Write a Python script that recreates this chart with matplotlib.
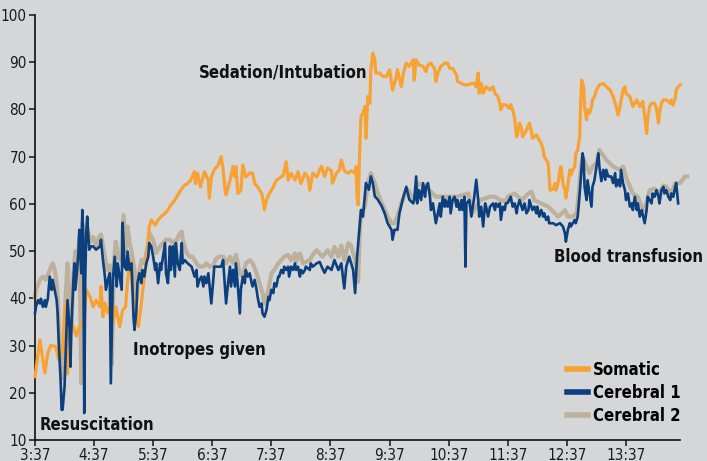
import matplotlib
matplotlib.use("Agg")
from matplotlib import pyplot as plt
from matplotlib import font_manager as fm

# minutes after 3:37
som_t = [0, 5, 10, 13, 16, 21, 24, 28, 30, 31, 33, 35, 39, 42, 45, 49, 50, 52, 56, 59, 62, 66, 67, 69, 71, 74,
         77, 79, 82, 86, 89, 92, 94, 97, 99, 103, 105, 108, 111, 115, 116, 118, 122, 125, 128, 132, 135, 138,
         142, 145, 148, 152, 155, 158, 162, 163, 165, 168, 172, 176, 177, 179, 182, 186, 189, 191, 193, 194,
         198, 201, 203, 204, 206, 209, 211, 214, 218, 221, 223, 226, 230, 231, 233, 235, 238, 242, 245, 248,
         252, 255, 257, 260, 264, 267, 270, 274, 277, 279, 282, 286, 289, 291, 294, 297, 301, 302, 306, 309,
         311, 314, 318, 321, 325, 326, 327, 328, 330, 331, 333, 335, 336, 338, 340, 341, 343, 345, 346, 350,
         353, 357, 360, 363, 367, 368, 372, 374, 377, 380, 384, 385, 387, 390, 394, 397, 399, 402, 406, 407,
         409, 412, 416, 419, 421, 424, 428, 429, 433, 436, 440, 443, 446, 448, 450, 451, 453, 455, 458, 462,
         465, 467, 470, 472, 473, 475, 478, 482, 483, 485, 487, 489, 490, 492, 494, 495, 499, 502, 504, 505,
         509, 512, 514, 516, 517, 519, 521, 522, 523, 526, 528, 529, 531, 533, 534, 536, 538, 539, 541, 543,
         544, 546, 548, 549, 551, 553, 554, 555, 557, 558, 560, 561, 563, 565, 566, 568, 570, 573, 577, 580,
         584, 587, 590, 592, 594, 597, 599, 600, 604, 606, 607, 611, 614, 616, 617, 619, 621, 622, 624, 626,
         629, 631, 633, 634, 636, 638, 641, 645, 646, 648, 650, 651, 653, 655]
somatic = [23.4, 31.2, 24.2, 28.4, 30, 29.8, 27, 29, 36.9, 39, 24, 31.9, 34, 32, 34, 34.7, 35.4, 41.8, 40.3,
           38.2, 39.6, 38.2, 42.5, 36.1, 39, 36.9, 39, 34.7, 38.2, 34, 37.5, 38.2, 43.9, 48, 41.8, 36.1, 34,
           39, 44.6, 51.7, 55.2, 56.6, 55.5, 56.6, 57.3, 58, 58.7, 59.8, 60.8, 61.9, 62.9, 64, 64.3, 65, 66.8,
           64.3, 66.5, 63.6, 66.8, 65, 61.2, 65.7, 67.2, 68.2, 70, 67.2, 63, 61.9, 65, 67.9, 65.7, 67.9, 62.2,
           62.9, 68.2, 65.7, 66.5, 66.5, 64.3, 63.6, 62.2, 61.5, 58.7, 60.8, 62.2, 63.6, 65, 65.4, 66, 68.9,
           65, 66.5, 65, 66.8, 64.3, 66.5, 65.7, 62.9, 66.5, 65.7, 67.2, 67.9, 65.8, 67.6, 67, 64.4, 66.5,
           67.2, 69.3, 67, 66.5, 67, 66.5, 67.9, 61.5, 59.8, 73.5, 78.5, 79.2, 80.6, 73.9, 82.7, 81.3, 88.4,
           91.9, 90.5, 87.7, 87.7, 87, 87, 88.4, 84.1, 87, 88.4, 84.8, 87.7, 89.8, 89.1, 90.5, 86.2, 90.5,
           89.4, 89.1, 88, 89.4, 89.8, 88.4, 85.9, 87.7, 89.1, 89.8, 89.8, 88.7, 88.7, 87.3, 85.9, 85.5, 85.2,
           85.2, 85.5, 85.5, 84.8, 87.7, 83.4, 85.5, 83.4, 84.8, 84.1, 84.8, 83.4, 82.7, 81.3, 79.9, 81, 81,
           80.2, 81, 79.9, 78.1, 74.2, 74.9, 77.1, 76, 74.2, 75.6, 77.1, 75.3, 73.9, 74.6, 73.5, 72.8, 71.4,
           70, 69.3, 68.6, 65.8, 62.9, 63.1, 64.3, 62.9, 64.3, 67.2, 67.9, 64.3, 62.9, 61.2, 64, 67.2, 66.1,
           67.2, 67.9, 70.7, 71.4, 74.2, 81.3, 86.2, 84.8, 80.6, 77.8, 79.9, 79.2, 80.6, 82, 82.7, 84.1, 85.2,
           85.5, 84.8, 84.1, 82.7, 80.6, 78.8, 80.6, 84.1, 84.8, 83.4, 82.7, 81.3, 80.6, 82, 80.6, 81.3, 81.7,
           78.5, 74.9, 77.8, 80.6, 81.3, 81.3, 80.2, 77.1, 79.2, 81.3, 82, 82, 81.3, 82, 80.9, 82.4, 84.1,
           84.8, 85.2]

cer1_t = [0, 1, 3, 5, 6, 8, 10, 11, 13, 15, 17, 18, 20, 22, 23, 24, 26, 27, 28, 30, 32, 33, 35, 36, 37, 39,
          40, 41, 43, 44, 45, 47, 48, 49, 50, 51, 52, 53, 55, 57, 59, 62, 66, 67, 69, 71, 72, 74, 76, 77, 79,
          81, 83, 84, 86, 88, 89, 91, 93, 94, 96, 98, 99, 100, 101, 103, 104, 106, 108, 109, 111, 113, 115,
          116, 118, 120, 122, 123, 125, 127, 128, 130, 132, 133, 135, 137, 138, 140, 142, 143, 145, 147, 149,
          150, 152, 155, 159, 162, 164, 165, 167, 169, 171, 172, 174, 176, 177, 179, 181, 182, 186, 189, 191,
          193, 194, 196, 198, 199, 201, 203, 204, 206, 208, 209, 211, 213, 214, 216, 218, 220, 221, 223, 225,
          226, 228, 230, 231, 233, 235, 237, 238, 240, 242, 243, 245, 247, 248, 250, 252, 253, 255, 257, 258,
          260, 262, 264, 265, 267, 269, 270, 272, 274, 275, 279, 280, 282, 286, 289, 291, 294, 297, 301, 304,
          308, 311, 314, 316, 319, 323, 325, 327, 329, 331, 333, 336, 339, 341, 343, 345, 348, 352, 355, 358,
          362, 363, 365, 368, 370, 374, 377, 380, 384, 385, 387, 388, 390, 392, 394, 396, 397, 399, 401, 402,
          404, 406, 407, 409, 411, 412, 414, 416, 417, 419, 421, 422, 424, 426, 428, 429, 431, 433, 434, 436,
          437, 438, 441, 443, 445, 446, 448, 450, 451, 453, 455, 457, 458, 460, 462, 465, 467, 468, 470, 472,
          473, 475, 477, 478, 480, 483, 485, 487, 489, 490, 492, 494, 495, 497, 499, 501, 502, 504, 505, 507,
          509, 510, 512, 514, 516, 517, 519, 521, 522, 526, 529, 533, 536, 538, 539, 541, 543, 544, 546, 548,
          549, 551, 553, 555, 556, 557, 558, 560, 561, 563, 565, 566, 568, 570, 572, 573, 575, 577, 579, 580,
          582, 585, 587, 589, 590, 592, 594, 595, 597, 599, 600, 602, 604, 606, 607, 609, 611, 612, 614, 616,
          619, 621, 622, 624, 626, 627, 629, 631, 633, 634, 636, 638, 639, 641, 643, 645, 646, 648, 650, 651,
          653]
cerebral1 = [36.8, 38.2, 39.6, 38.9, 39.9, 38.2, 39.6, 38.2, 39.9, 44.6, 41.8, 43.9, 41.8, 39.6, 36.8, 31.2,
             22.7, 16.4, 16.4, 21.3, 33.2, 39.6, 34, 25.5, 34, 43.9, 47.4, 41.8, 46.7, 49.5, 54.5, 45.3, 58.7,
             52.4, 15.7, 43.9, 53.8, 57.3, 50.3, 51, 51, 50.3, 51, 52.4, 48.1, 44.6, 41.8, 43.9, 45.3, 22,
             43.9, 48.8, 42.5, 47.4, 44.6, 41.8, 56, 46.7, 46, 49.9, 46, 47.4, 41.8, 36.1, 33.3, 37.5, 43.2,
             45.3, 43.2, 46, 44.6, 47.4, 48.8, 51.7, 51, 48.8, 46, 47.4, 43.2, 47.4, 46, 48.8, 51.7, 45.3, 43.2,
             51, 46, 51, 44.6, 51.7, 47.4, 46, 51.7, 47.4, 48.1, 47.4, 46.7, 44.6, 46, 42.5, 43.9, 44.6, 42.5,
             44.6, 43.2, 45.3, 43.2, 38.9, 43.9, 46.7, 46.7, 46.7, 48.1, 41.8, 38.9, 43.2, 46.7, 42.5, 46, 42.5,
             47.4, 42.5, 36.8, 41.8, 44.6, 43.2, 46, 44.6, 45.3, 43.2, 42.5, 43.9, 41.8, 40.3, 38.2, 38.9, 36.8,
             36.1, 37.5, 40.3, 39.6, 41.8, 41.1, 43.2, 42.5, 44.6, 44.6, 46, 45.3, 46.7, 46, 46.7, 44.6, 46.7,
             46, 47.4, 46, 46.7, 44.6, 46, 45.3, 46, 46.7, 46, 47.4, 46.7, 47.4, 47.7, 46.7, 45.4, 46.7, 46,
             48.1, 46, 47.4, 42.1, 46.7, 48.8, 46, 41.1, 48.8, 53.8, 58.7, 57.3, 64.4, 63, 65.8, 64.4, 61.6,
             60.9, 59.5, 58, 55.9, 54.5, 52.4, 54.5, 54.5, 58, 61.5, 63.6, 60.9, 60.1, 60.8, 65.8, 60.1, 62.9,
             60.8, 64.4, 61.5, 63.6, 64.4, 61.5, 58.7, 60.1, 57.3, 55.9, 58, 60.1, 57.3, 61.5, 59.4, 60.8, 59.4,
             61.5, 58, 60.8, 61.5, 59.4, 60.8, 58.7, 60.8, 58.7, 61.5, 46.7, 60.1, 60.8, 57.3, 60.1, 61.5, 65.1,
             60.8, 57.3, 59.4, 55.2, 60.1, 59.4, 57.3, 59.4, 60.1, 58.7, 60.1, 59.4, 60.1, 56.6, 59.4, 58.7,
             60.1, 60.2, 61.5, 59.4, 60.1, 58, 59.4, 60.8, 59.4, 58.7, 60.1, 58, 58.7, 60.8, 59.4, 58.7, 59.4,
             58, 59.4, 57.3, 58.7, 57.3, 58, 56.6, 57.3, 55.9, 55.9, 55.5, 55.9, 55.2, 53.8, 52, 54.5, 55.9,
             55.2, 55.9, 56.6, 55.9, 57.3, 62.2, 67.9, 70.7, 69.3, 63.6, 60.8, 65, 62.2, 59.4, 63.6, 65, 67.9,
             70.7, 67.9, 64.8, 67.2, 65.1, 67.2, 65.8, 65.8, 64.4, 66.5, 63.7, 65.1, 63.7, 67.2, 64.4, 62.9,
             60.8, 62.2, 59.4, 60.1, 58.7, 61.5, 58.7, 60.1, 57.3, 58.7, 55.9, 58.7, 61.5, 60.8, 60.1, 62.2,
             61.5, 62.9, 61.5, 60.1, 62.9, 63.6, 62.2, 62.9, 61.5, 60.8, 62.2, 61.5, 63.6, 64.4, 60.1]

cer2_t = [0, 1, 5, 8, 11, 15, 18, 20, 22, 23, 25, 27, 29, 31, 33, 35, 37, 39, 41, 43, 45, 47, 48, 50, 52, 54,
          56, 59, 62, 65, 67, 70, 73, 76, 78, 80, 82, 84, 87, 90, 92, 94, 96, 98, 101, 103, 105, 108, 111,
          115, 116, 120, 123, 127, 130, 133, 137, 140, 144, 147, 149, 150, 154, 157, 160, 164, 167, 171, 174,
          177, 181, 184, 187, 191, 194, 198, 201, 204, 208, 211, 214, 218, 221, 225, 228, 231, 233, 237, 240,
          243, 247, 250, 253, 257, 260, 264, 265, 269, 272, 275, 279, 282, 286, 289, 292, 297, 301, 304, 308,
          311, 314, 318, 321, 325, 327, 328, 330, 331, 335, 338, 341, 345, 348, 352, 355, 358, 362, 365, 368,
          372, 375, 379, 382, 385, 389, 397, 407, 417, 428, 440, 444, 452, 462, 467, 472, 478, 480, 487, 494,
          501, 504, 507, 514, 521, 528, 531, 535, 538, 541, 546, 550, 552, 554, 556, 560, 563, 566, 570, 573,
          580, 587, 594, 597, 601, 607, 612, 616, 619, 624, 629, 634, 638, 641, 646, 650, 655, 660, 662]
cerebral2 = [40.3, 41.8, 43.9, 44.6, 43.9, 46, 47.4, 46, 43.2, 40.3, 30, 23, 25, 40, 47.4, 40, 34, 45, 50, 47,
             53, 22, 56, 48, 55, 54, 52, 53, 51, 53, 53.5, 50, 46, 47, 26, 47, 52, 49, 48, 57.6, 50, 55.2,
             51.7, 50, 46, 40, 44.6, 48.1, 47.4, 51.7, 53.8, 52.4, 49.6, 51, 51.7, 52.4, 52.4, 51.7, 52.4,
             53.8, 54.1, 52.4, 49.6, 48.8, 48.8, 47.4, 46.7, 46.7, 47.4, 46.7, 47, 48.4, 48.8, 48.8, 47.4,
             48.8, 47.4, 49.2, 45.3, 44.6, 47.4, 48.1, 47.4, 45.3, 43.2, 41.1, 38.9, 41.8, 45.3, 46, 47.4,
             48.1, 48.8, 49.2, 48.1, 49.5, 47.7, 49.5, 47.4, 47.7, 48.1, 49.2, 50.2, 49.5, 48.8, 50.2, 48.8,
             50.9, 48.8, 51.2, 48.1, 51.7, 51.2, 48.1, 45.3, 43.5, 55.2, 58, 59.4, 64.4, 66.5, 64.4, 62.3,
             60.2, 58.8, 57.4, 55.9, 55.9, 57.4, 60.2, 61.6, 63, 61.6, 60.9, 64.4, 63.6, 61.5, 61.5, 61.5,
             62.2, 58, 60.8, 61.5, 61.5, 60.8, 60.5, 61.5, 62.2, 60.8, 62.2, 62.6, 60.8, 60.1, 59.4, 58, 57.3,
             58, 58.7, 57.3, 57.3, 58, 62.2, 67.2, 70, 67.9, 66.5, 67.9, 68.6, 71.4, 69.3, 67.9, 67.2, 67.9,
             65.1, 62.2, 61.5, 59.4, 58.7, 62.9, 63.2, 62.2, 63.9, 63.6, 62.2, 64.4, 64.4, 65.8, 65.8]

hour_ticks = [0, 60, 120, 180, 240, 300, 360, 420, 480, 540, 600]
hour_labels = ["3:37", "4:37", "5:37", "6:37", "7:37", "8:37", "9:37", "10:37", "11:37", "12:37", "13:37"]


def narrow_font(bold):
    # look for an installed narrow / condensed sans face
    want = 700 if bold else 400
    best = None
    for f in fm.fontManager.ttflist:
        name = f.name.lower()
        cond = "narrow" in name or "condensed" in name or str(f.stretch).lower() in ("condensed", "semi-condensed")
        if not cond or f.style != "normal":
            continue
        if "sans" not in name and "roboto" not in name:
            continue
        try:
            w = int(f.weight)
        except ValueError:
            w = 700 if "bold" in str(f.weight) else 400
        score = abs(w - want)
        if best is None or score < best[0]:
            best = (score, f.fname)
    if best is not None:
        return fm.FontProperties(fname=best[1]), True
    return fm.FontProperties(family="Liberation Sans", weight="bold" if bold else "normal"), False


reg_fp, found = narrow_font(False)
bold_fp, _ = narrow_font(True)
tick_size = 11 if found else 10
note_size = 12 if found else 11

bg = "#d4d6d8"
fig = plt.figure(figsize=(7.07, 4.61), dpi=100, facecolor=bg)
ax = fig.add_axes([0.0495, 0.0456, 0.9125, 0.922], facecolor=bg)

ax.plot(cer2_t, cerebral2, color="#bdb19d", lw=3.0, label="Cerebral 2", clip_on=False, zorder=2)
ax.plot(som_t, somatic, color="#f8a233", lw=2.3, label="Somatic", clip_on=False, zorder=3)
ax.plot(cer1_t, cerebral1, color="#0b3f7d", lw=1.9, label="Cerebral 1", clip_on=False, zorder=4)

ax.set_xlim(0, 655)
ax.set_ylim(10, 100)
ax.set_yticks(range(10, 101, 10))
ax.set_xticks(hour_ticks)
ax.set_xticklabels(hour_labels)
for s in ["top", "right"]:
    ax.spines[s].set_visible(False)
for s in ["left", "bottom"]:
    ax.spines[s].set_linewidth(1.2)
    ax.spines[s].set_color("#111111")
ax.tick_params(length=4, width=1.1, color="#111111", pad=2)
for lab in ax.get_xticklabels() + ax.get_yticklabels():
    lab.set_fontproperties(reg_fp)
    lab.set_fontsize(tick_size)
    lab.set_color("#1a1a1a")

notes = [(166, 87.9, "Sedation/Intubation"), (99, 29.1, "Inotropes given"),
         (5, 13.2, "Resuscitation"), (527, 48.8, "Blood transfusion")]
for x, y, s in notes:
    ax.text(x, y, s, fontproperties=bold_fp, fontsize=note_size, color="#111111",
            va="center", clip_on=False)

h, l = ax.get_legend_handles_labels()
order = [1, 2, 0]
leg_fp = bold_fp.copy()
leg_fp.set_size(note_size)
leg = fig.legend([h[i] for i in order], [l[i] for i in order], loc="center left",
                 bbox_to_anchor=(0.802, 0.147), frameon=False, handlelength=1.25,
                 handletextpad=0.3, labelspacing=0.3, borderpad=0, borderaxespad=0,
                 prop=leg_fp)
for line in leg.get_lines():
    line.set_linewidth(4)

fig.savefig("out.png", dpi=100, facecolor=bg)
